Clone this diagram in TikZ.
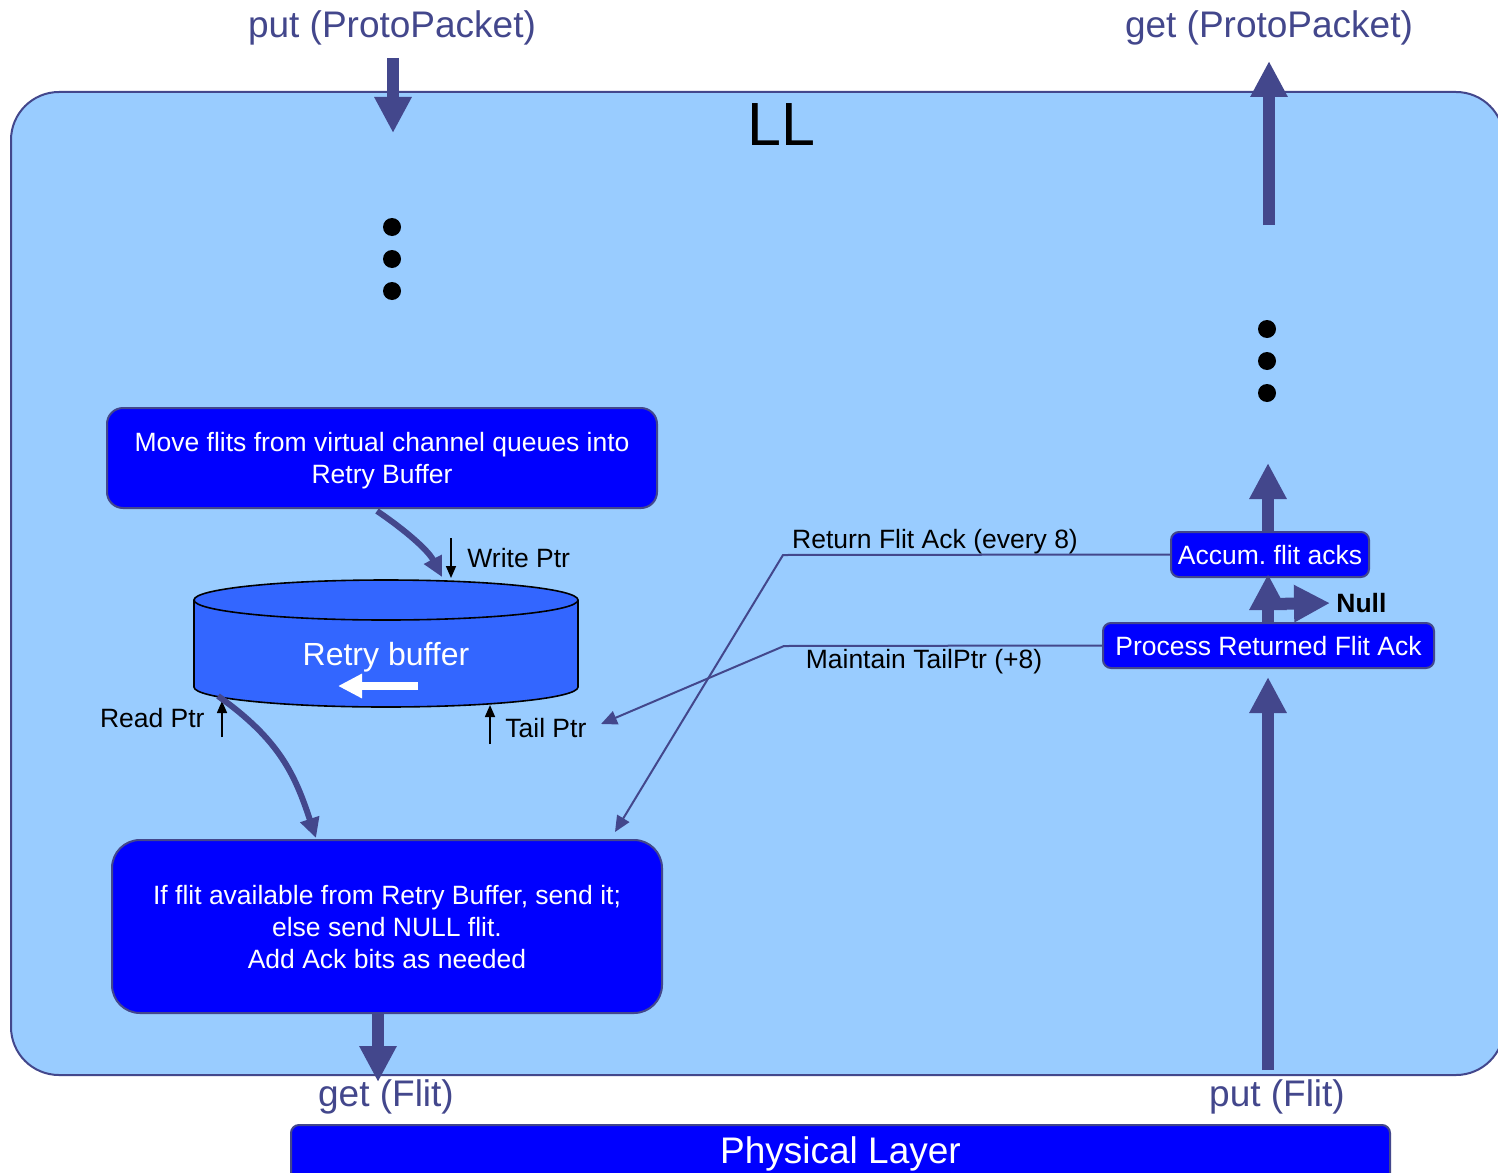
\documentclass[tikz,border=0pt]{standalone}
\usepackage{fontspec}
\setmainfont{Liberation Sans}
\usetikzlibrary{arrows.meta,calc}
\definecolor{slate}{HTML}{43478C}
\definecolor{llsky}{HTML}{99CCFF}
\definecolor{stagefill}{HTML}{0000FF}
\definecolor{bufferfill}{HTML}{3366FF}

\begin{document}
\begin{tikzpicture}[x=0.5pt,y=-0.5pt,
  midfont/.style={font=\fontsize{13.25}{16}\selectfont},
  stagebox/.style={draw=slate, line width=1pt, fill=stagefill, text=white, midfont, align=center, inner sep=0pt},
  fatarrow/.style={draw=slate, line width=6pt, -{Triangle[width=17.5pt,length=18pt]}},
  bentarrow/.style={draw=slate, line width=3pt, -{Triangle[width=9.5pt,length=10pt]}},
  ackline/.style={draw=slate, line width=1pt, -{Triangle[width=7pt,length=8pt]}},
  ptrarrow/.style={draw=black, line width=0.8pt, -{Triangle[width=5pt,length=6pt]}},
  iolabel/.style={text=slate, font=\fontsize{18.5}{22}\selectfont, inner sep=0pt},
  plainlabel/.style={text=black, midfont, inner sep=0pt},
  ellipsisdot/.style={fill=black}
]
\clip (0,0) rectangle (1498,1172);
\fill[white] (0,0) rectangle (1498,1172);

% link-layer container
\draw[draw=slate, line width=1pt, fill=llsky, rounded corners=24pt] (11,92) rectangle (1504,1075);
\node[font=\fontsize{30.5}{36}\selectfont, inner sep=0pt] (ll) at (781,125) {LL};

% interface labels
\node[iolabel] (putpp) at (392,28) {put (ProtoPacket)};
\node[iolabel] (getpp) at (1269,28) {get (ProtoPacket)};
\node[iolabel] (getflit) at (386,1097) {get (Flit)};
\node[iolabel] (putflit) at (1277,1097) {put (Flit)};

% processing stages
\node[stagebox, rounded corners=8pt, minimum width=275pt, minimum height=50pt, text depth=-1.5pt] (move) at (382,458)
  {Move flits from virtual channel queues into\\Retry Buffer};
\node[stagebox, rounded corners=14pt, minimum width=275pt, minimum height=86.5pt, text depth=-3pt] (send) at (387,926.5)
  {If flit available from Retry Buffer, send it;\\else send NULL flit.\\Add Ack bits as needed};
\node[stagebox, text depth=-2pt, rounded corners=4pt, minimum width=99pt, minimum height=22.5pt] (accum) at (1270,554.5)
  {Accum.\ flit acks};
\node[stagebox, text depth=-2pt, rounded corners=4pt, minimum width=165.5pt, minimum height=22.5pt] (proc) at (1268.5,645.5)
  {Process Returned Flit Ack};
\node[stagebox, rounded corners=4pt, minimum width=549.5pt, minimum height=29pt,
  font=\fontsize{18.5}{22}\selectfont] (phy) at (840.5,1154) {Physical Layer};

% retry buffer drum
\filldraw[fill=bufferfill, draw=black, line width=0.8pt]
  (194,600) -- (194,687) arc[start angle=180, end angle=360, x radius=96pt, y radius=10pt] -- (578,600);
\filldraw[fill=bufferfill, draw=black, line width=0.8pt] (386,600) ellipse [x radius=96pt, y radius=10pt];
\node[text=white, font=\fontsize{16}{19}\selectfont, inner sep=0pt] (rb) at (386,657) {Retry buffer};
\coordinate (rbflowtail) at (418,686);
\coordinate (rbflowhead) at (338,686);
\draw[white, line width=4pt, -{Triangle[width=11.5pt,length=12pt]}] (rbflowtail) -- (rbflowhead);

% buffer pointers
\node[plainlabel, anchor=west] (wptr) at (467,558) {Write Ptr};
\node[plainlabel, anchor=east] (rptr) at (205,718) {Read Ptr};
\node[plainlabel, anchor=west] (tptr) at (505,728) {Tail Ptr};
\coordinate (wptrtop) at (451,538);   \coordinate (wptrtip) at (451,578);
\coordinate (rptrbot) at (222,737);   \coordinate (rptrtip) at (222,701);
\coordinate (tptrbot) at (490,744);   \coordinate (tptrtip) at (490,705);
\draw[ptrarrow] (wptrtop) -- (wptrtip);
\draw[ptrarrow] (rptrbot) -- (rptrtip);
\draw[ptrarrow] (tptrbot) -- (tptrtip);

% flits into and out of the buffer
\coordinate (bufin) at (442,577);
\coordinate (bufout) at (218,696);
\coordinate (sendin) at (316,838);
\draw[bentarrow] ([xshift=-2.5pt,yshift=-1pt]move.south) .. controls (405,530) and (428,550) .. (bufin);
\draw[bentarrow] (bufout) .. controls (280,740) and (295,775) .. (sendin);

% vertical ellipses
\foreach \yy in {227,259,291} \fill[ellipsisdot] (392,\yy) circle[radius=4.5pt];
\foreach \yy in {329,361,393} \fill[ellipsisdot] (1267,\yy) circle[radius=4.5pt];

% acknowledgement paths
\coordinate (retbend) at (783,555);
\coordinate (rettip) at (615,832);
\coordinate (tailbend) at (784,646);
\coordinate (tailtip) at (601,724);
\draw[ackline] (accum.west) -- (retbend) -- (rettip);
\draw[ackline] (proc.west) -- (tailbend) -- (tailtip);
\node[plainlabel] (retlbl) at (935,542) {Return Flit Ack (every 8)};
\node[plainlabel] (taillbl) at (924,662) {Maintain TailPtr (+8)};

% wide data-path arrows
\coordinate (ppin) at (393,58);     \coordinate (ppend) at (393,133);
\coordinate (gpstart) at (1269,225); \coordinate (gpend) at (1269,61);
\coordinate (gfend) at (378,1082);
\coordinate (pfstart) at (1268,1070);
\coordinate (nullfork) at (1268,604);
\coordinate (upend) at (1268,463);
\draw[fatarrow] (ppin) -- (ppend);
\draw[fatarrow] (gpstart) -- (gpend);
\draw[fatarrow] (send.south -| gfend) -- (gfend);
\draw[fatarrow, shorten >=4pt] (pfstart) -- (pfstart |- proc.south);
\draw[fatarrow, shorten >=-2pt] (proc.north -| nullfork) -- (nullfork |- accum.south);
\node[plainlabel, font=\bfseries\fontsize{13.25}{16}\selectfont, anchor=west] (null) at (1336,603) {Null};
\draw[fatarrow, shorten >=3pt] (nullfork) -- (null.west);
\draw[fatarrow] (accum.north -| upend) -- (upend);
\end{tikzpicture}
\end{document}
